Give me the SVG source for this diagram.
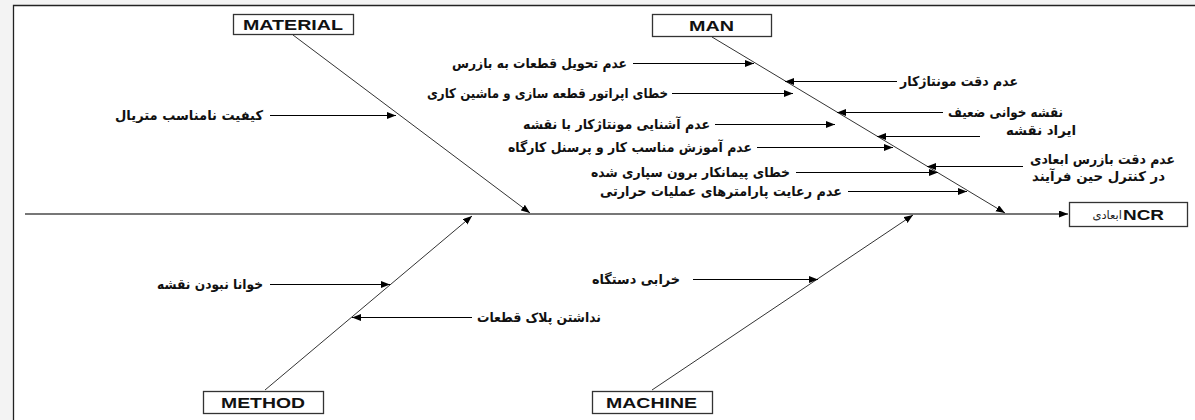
<svg xmlns="http://www.w3.org/2000/svg" width="1195" height="420" viewBox="0 0 1195 420">
<style>
.box{fill:#fff;stroke:#333;stroke-width:1.3}
.cat{font-family:"Liberation Sans",Arial,sans-serif;font-weight:bold;font-size:15px;fill:#111}
.fa{font-family:"DejaVu Sans",sans-serif;font-weight:bold;font-size:13.5px;fill:#111}
.br{stroke:#333;stroke-width:1;fill:none}
.ca{stroke:#000;stroke-width:1;fill:none}
.sp{stroke:#777;stroke-width:2;fill:none}
</style>
<defs>
<marker id="ah" markerUnits="userSpaceOnUse" markerWidth="10" markerHeight="8" refX="9" refY="3.5" orient="auto">
<path d="M0,0 L9,3.5 L0,7 z" fill="#000"/>
</marker>
</defs>
<rect x="0" y="0" width="1195" height="420" fill="#f3f3f3"/>
<rect x="13" y="5" width="1182" height="415" fill="#fff"/>
<path d="M13.5,420 V5.5 H1195" stroke="#222" stroke-width="1.3" fill="none"/>

<g id="connectors">
<line class="sp" x1="25" y1="214" x2="1068" y2="214" marker-end="url(#ah)"/>
<line class="br" x1="293" y1="35" x2="530" y2="213" marker-end="url(#ah)"/>
<line class="br" x1="712" y1="37" x2="1005" y2="213" marker-end="url(#ah)"/>
<line class="br" x1="265" y1="390" x2="472" y2="216" marker-end="url(#ah)"/>
<line class="br" x1="652" y1="390" x2="913" y2="215" marker-end="url(#ah)"/>
<line class="ca" x1="270" y1="115.5" x2="396" y2="115.5" marker-end="url(#ah)"/>
<line class="ca" x1="633" y1="63.5" x2="754" y2="63.5" marker-end="url(#ah)"/>
<line class="ca" x1="672" y1="93.5" x2="793" y2="93.5" marker-end="url(#ah)"/>
<line class="ca" x1="715" y1="124.5" x2="835" y2="124.5" marker-end="url(#ah)"/>
<line class="ca" x1="757" y1="147.5" x2="893" y2="147.5" marker-end="url(#ah)"/>
<line class="ca" x1="796" y1="172.5" x2="938" y2="172.5" marker-end="url(#ah)"/>
<line class="ca" x1="848" y1="191.5" x2="967" y2="191.5" marker-end="url(#ah)"/>
<line class="ca" x1="897" y1="81.5" x2="785" y2="81.5" marker-end="url(#ah)"/>
<line class="ca" x1="943" y1="112.5" x2="837" y2="112.5" marker-end="url(#ah)"/>
<line class="ca" x1="980" y1="136.5" x2="877" y2="136.5" marker-end="url(#ah)"/>
<line class="ca" x1="1023" y1="166.5" x2="927" y2="166.5" marker-end="url(#ah)"/>
<line class="ca" x1="270" y1="284.5" x2="390" y2="284.5" marker-end="url(#ah)"/>
<line class="ca" x1="472" y1="317.5" x2="352" y2="317.5" marker-end="url(#ah)"/>
<line class="ca" x1="693" y1="279.5" x2="818" y2="279.5" marker-end="url(#ah)"/>
</g>

<g id="material"><rect class="box" x="233.5" y="14.5" width="120" height="20"/><text class="cat" x="243" y="30" textLength="100" lengthAdjust="spacingAndGlyphs">MATERIAL</text></g>
<g id="man"><rect class="box" x="652.5" y="14.5" width="119" height="22"/><text class="cat" x="689" y="31" textLength="45" lengthAdjust="spacingAndGlyphs">MAN</text></g>
<g id="method"><rect class="box" x="203.5" y="391.5" width="120" height="22"/><text class="cat" x="221" y="408" textLength="84" lengthAdjust="spacingAndGlyphs">METHOD</text></g>
<g id="machine"><rect class="box" x="592.5" y="391.5" width="120" height="22"/><text class="cat" x="606" y="408" textLength="91" lengthAdjust="spacingAndGlyphs">MACHINE</text></g>
<g id="ncr"><rect class="box" x="1069.5" y="202.5" width="118" height="24"/>
<text font-family="DejaVu Sans,sans-serif" font-size="11.5" fill="#222" x="1122" y="219" text-anchor="end">ابعادی</text>
<text class="cat" x="1123" y="220" font-size="16" textLength="41" lengthAdjust="spacingAndGlyphs">NCR</text></g>

<g id="c-material-1"><text class="fa" x="115" y="120" textLength="148" lengthAdjust="spacingAndGlyphs">کیفیت نامناسب متریال</text></g>
<g id="c-man-1"><text class="fa" x="452" y="68" textLength="175" lengthAdjust="spacingAndGlyphs">عدم تحویل قطعات به بازرس</text></g>
<g id="c-man-2"><text class="fa" x="427" y="98" textLength="241" lengthAdjust="spacingAndGlyphs">خطای اپراتور قطعه سازی و ماشین کاری</text></g>
<g id="c-man-3"><text class="fa" x="523" y="129" textLength="187" lengthAdjust="spacingAndGlyphs">عدم آشنایی مونتاژکار با نقشه</text></g>
<g id="c-man-4"><text class="fa" x="508" y="152" textLength="244" lengthAdjust="spacingAndGlyphs">عدم آموزش مناسب کار و پرسنل کارگاه</text></g>
<g id="c-man-5"><text class="fa" x="591" y="176.5" textLength="199" lengthAdjust="spacingAndGlyphs">خطای پیمانکار برون سپاری شده</text></g>
<g id="c-man-6"><text class="fa" x="600" y="196" textLength="242" lengthAdjust="spacingAndGlyphs">عدم رعایت پارامترهای عملیات حرارتی</text></g>
<g id="c-man-7"><text class="fa" x="900" y="86" textLength="118" lengthAdjust="spacingAndGlyphs">عدم دقت مونتاژکار</text></g>
<g id="c-man-8"><text class="fa" x="948" y="117" textLength="115" lengthAdjust="spacingAndGlyphs">نقشه خوانی ضعیف</text></g>
<g id="c-man-9"><text class="fa" x="1006" y="134.5" textLength="70" lengthAdjust="spacingAndGlyphs">ایراد نقشه</text></g>
<g id="c-man-10"><text class="fa" x="1030" y="163.5" textLength="145" lengthAdjust="spacingAndGlyphs">عدم دقت بازرس ابعادی</text><text class="fa" x="1032" y="181" textLength="133" lengthAdjust="spacingAndGlyphs">در کنترل حین فرآیند</text></g>
<g id="c-method-1"><text class="fa" x="157" y="289" textLength="106" lengthAdjust="spacingAndGlyphs">خوانا نبودن نقشه</text></g>
<g id="c-method-2"><text class="fa" x="477" y="322" textLength="124" lengthAdjust="spacingAndGlyphs">نداشتن پلاک قطعات</text></g>
<g id="c-machine-1"><text class="fa" x="592" y="284" textLength="88" lengthAdjust="spacingAndGlyphs">خرابی دستگاه</text></g>
</svg>
